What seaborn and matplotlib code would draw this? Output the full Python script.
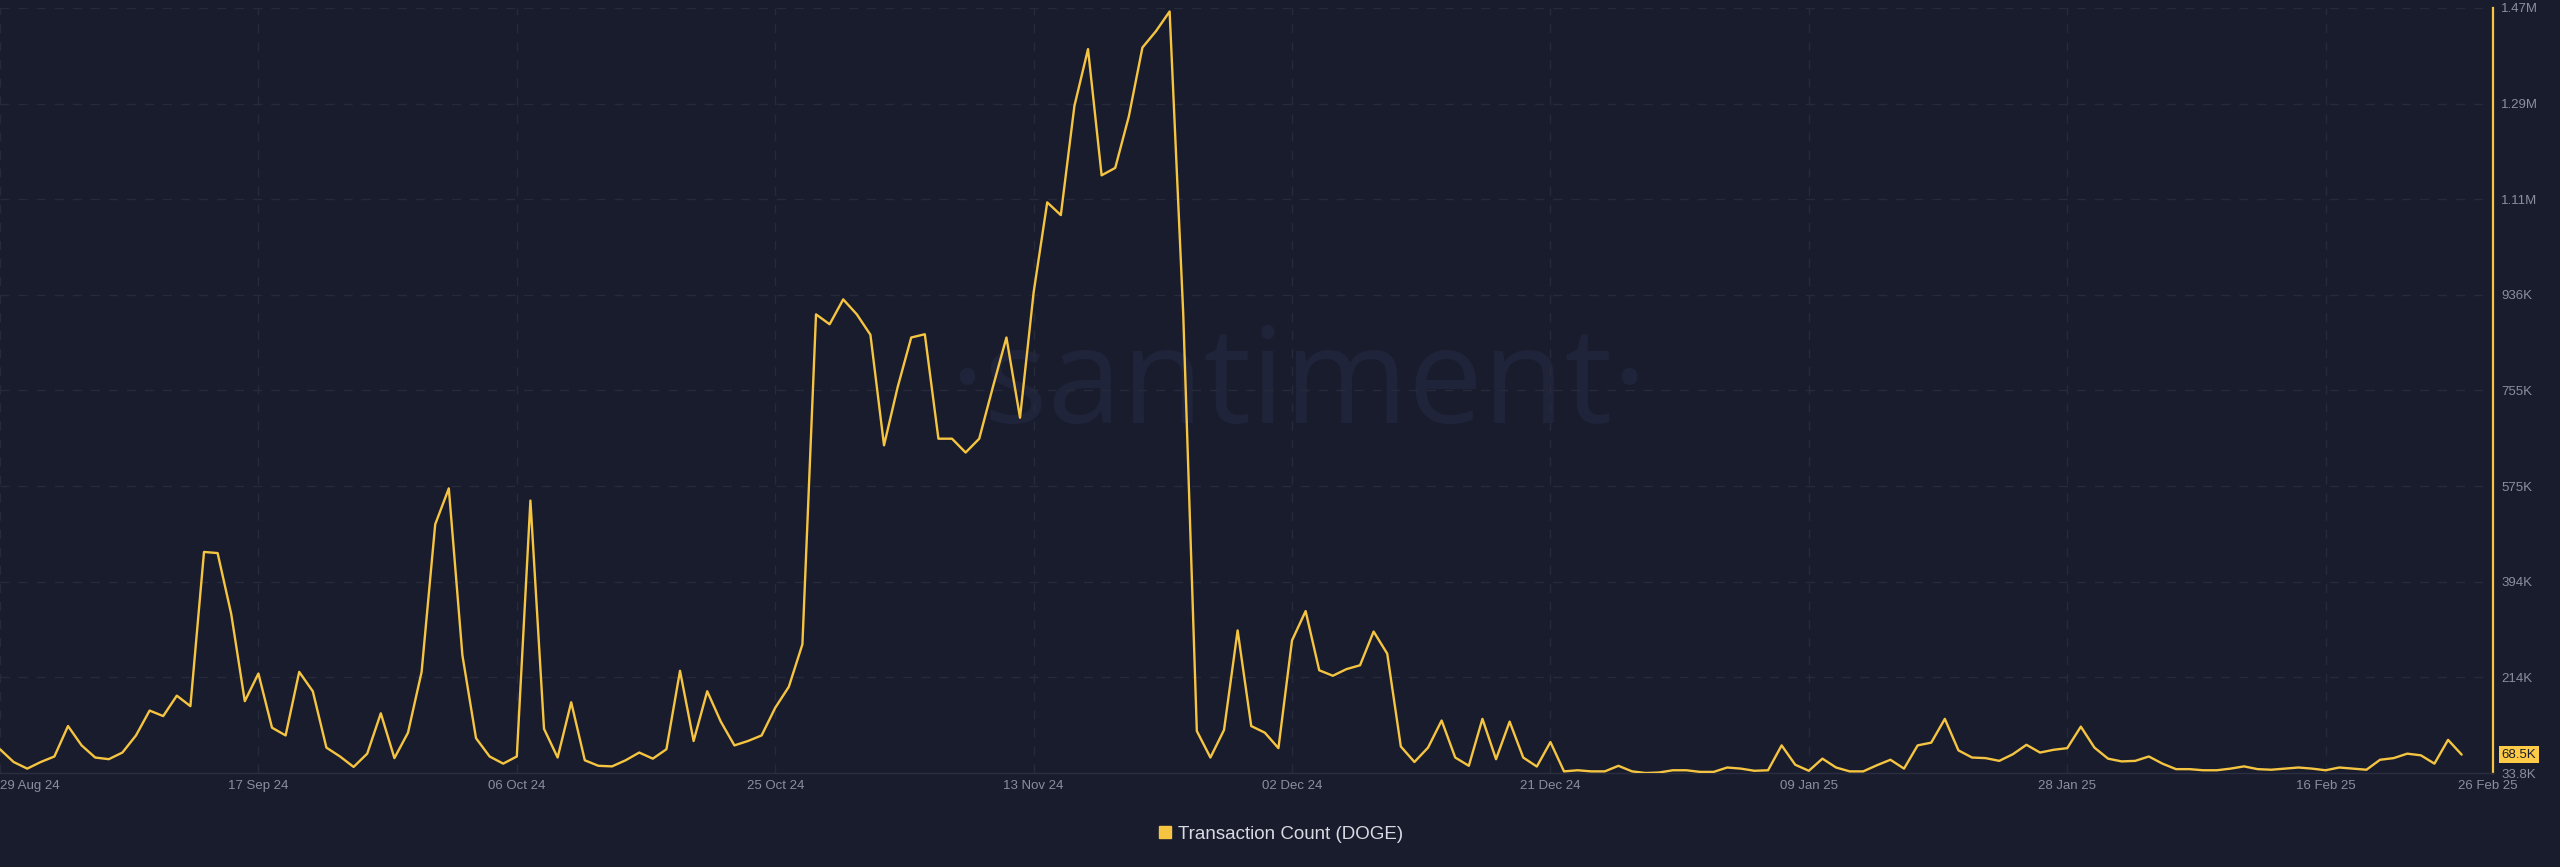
#!/usr/bin/env python
# -*- coding: utf-8 -*-
"""
DOGE transaction count, daily, Santiment style chart.
"""

import matplotlib
matplotlib.use("Agg")
import matplotlib.pyplot as plt
import matplotlib.transforms as mtransforms
from matplotlib.lines import Line2D
import seaborn as sns
import pandas as pd
import numpy as np

# data (values in thousands, one per day from 29 Aug 24 to 26 Feb 25)
start_date = "2024-08-29"
end_date = "2025-02-26"
tx_count_k = [
    78.6, 54.6, 42.1, 54.6, 65.0, 122.4, 85.9, 63.0, 59.9, 72.4,
    104.7, 151.6, 141.2, 179.7, 159.9, 450.7, 448.6, 333.9, 169.3, 221.4,
    119.3, 104.7, 224.5, 188.0, 81.7, 65.0, 45.3, 70.3, 146.4, 61.9,
    109.9, 224.5, 502.8, 570.5, 255.8, 99.5, 65.0, 51.5, 65.0, 547.6,
    117.2, 63.0, 167.2, 57.8, 47.4, 46.3, 57.8, 72.4, 60.9, 78.6,
    226.6, 94.2, 188.0, 130.7, 85.9, 94.2, 104.7, 156.8, 196.4, 276.6,
    898.8, 880.1, 927.0, 898.8, 860.3, 651.8, 761.3, 855.1, 861.3, 664.3,
    664.3, 638.2, 664.3, 761.3, 855.1, 703.9, 940.0, 1110.0, 1086.0, 1292.0,
    1399.0, 1161.0, 1175.0, 1272.0, 1402.0, 1433.0, 1470.0, 900.0, 113.0, 63.0,
    115.0, 302.7, 122.4, 109.9, 80.7, 283.9, 339.2, 227.6, 217.2, 229.7,
    237.0, 300.6, 258.9, 83.8, 54.6, 81.7, 132.8, 63.0, 47.4, 135.9,
    59.9, 130.7, 63.0, 46.0, 92.2, 36.9, 39.0, 36.9, 36.9, 47.4,
    36.9, 33.8, 34.8, 39.0, 39.0, 35.9, 35.9, 44.2, 42.1, 38.0,
    39.0, 85.9, 49.4, 38.0, 60.9, 44.2, 36.9, 36.9, 48.4, 58.8,
    42.1, 85.9, 91.1, 135.9, 76.5, 63.0, 61.9, 56.7, 69.2, 87.0,
    72.4, 77.6, 80.7, 121.3, 81.7, 60.9, 55.7, 56.7, 65.0, 51.5,
    41.1, 41.1, 39.0, 39.0, 42.1, 46.3, 41.1, 40.0, 42.1, 44.2,
    42.1, 39.0, 44.2, 42.1, 40.0, 58.8, 61.9, 70.3, 67.2, 51.5,
    96.3, 68.5,
]
tick_dates = ["2024-08-29", "2024-09-17", "2024-10-06", "2024-10-25", "2024-11-13",
              "2024-12-02", "2024-12-21", "2025-01-09", "2025-01-28", "2025-02-16",
              "2025-02-26"]
tick_labels = ["29 Aug 24", "17 Sep 24", "06 Oct 24", "25 Oct 24", "13 Nov 24",
               "02 Dec 24", "21 Dec 24", "09 Jan 25", "28 Jan 25", "16 Feb 25",
               "26 Feb 25"]
y_min_k = 33.8
y_max_k = 1476.6
y_tick_labels = ["33.8K", "214K", "394K", "575K", "755K", "936K", "1.11M", "1.29M", "1.47M"]
last_label = "68.5K"
series_name = "Transaction Count (DOGE)"

# style
BG = "#191c2c"
GRID = "#262a3b"
YELLOW = "#f5c542"
TICK = "#8a8fa0"

sns.set_theme(style="dark")
plt.rcParams.update({
    "font.family": ["Liberation Sans", "DejaVu Sans"],
    "figure.facecolor": BG,
    "axes.facecolor": BG,
    "savefig.facecolor": BG,
})

df = pd.DataFrame({
    "date": pd.date_range(start_date, end_date, freq="D"),
    "count": np.array(tx_count_k) * 1000,
})

fig = plt.figure(figsize=(25.6, 8.67), dpi=100)
ax = fig.add_axes([0.0, 0.1084, 0.9738, 0.8824])

# watermark behind the line
ax.text(0.5206, 0.4574, "\u00b7santiment\u00b7", transform=ax.transAxes,
        ha="center", va="baseline", fontsize=96, color="#20243a",
        family="Open Sans", zorder=0)

sns.lineplot(data=df, x="date", y="count", ax=ax, color=YELLOW, linewidth=1.7, zorder=3)

# axes range
x0 = pd.Timestamp(start_date)
ax.set_xlim(x0, x0 + pd.Timedelta(days=183.3))
ax.set_ylim(y_min_k * 1000, y_max_k * 1000)

# grid
dash = (0, (6.5, 6.5))
yticks = np.linspace(y_min_k, y_max_k, len(y_tick_labels)) * 1000
for yv in yticks[1:]:
    ax.axhline(yv, color=GRID, linewidth=1.0, linestyle=dash, zorder=1)
for d in tick_dates[:-1]:
    ax.axvline(pd.Timestamp(d), color=GRID, linewidth=1.0, linestyle=dash, zorder=1)

# spines
for side in ["left", "top"]:
    ax.spines[side].set_visible(False)
ax.spines["right"].set_color(YELLOW)
ax.spines["right"].set_linewidth(1.6)
ax.spines["bottom"].set_color("#2a2e40")
ax.spines["bottom"].set_linewidth(1.0)

# ticks
ax.yaxis.tick_right()
ax.set_yticks(yticks)
ax.set_yticklabels(y_tick_labels)
ax.set_xticks([pd.Timestamp(d) for d in tick_dates])
ax.set_xticklabels(tick_labels)
ax.tick_params(axis="both", length=0, colors=TICK)
ax.tick_params(axis="x", pad=5, labelsize=9.5)
ax.tick_params(axis="y", pad=6, labelsize=9.5)
ax.set_xlabel("")
ax.set_ylabel("")
ax.grid(False)

xl = ax.get_xticklabels()
xl[0].set_ha("left")
xl[-1].set_transform(xl[-1].get_transform() +
                     mtransforms.ScaledTranslation(26 / 100, 0, fig.dpi_scale_trans))

# last value badge
ax.annotate(last_label, xy=(1.0, tx_count_k[-1] * 1000),
            xycoords=("axes fraction", "data"), xytext=(6, 0), textcoords="offset points",
            ha="left", va="center", fontsize=9.5, color="#1a1d2b",
            bbox=dict(boxstyle="square,pad=0.2", facecolor="#ffcb47", edgecolor="none"),
            annotation_clip=False, zorder=5)

# legend
handle = Line2D([], [], marker="s", linestyle="none", color=YELLOW, markersize=9)
fig.legend([handle], [series_name], loc="center", bbox_to_anchor=(0.5, 0.038),
           frameon=False, fontsize=13.5, labelcolor="#d8dae2",
           handletextpad=0.3, handlelength=0.8)

fig.savefig("out.png", dpi=100, facecolor=BG)
plt.close(fig)
